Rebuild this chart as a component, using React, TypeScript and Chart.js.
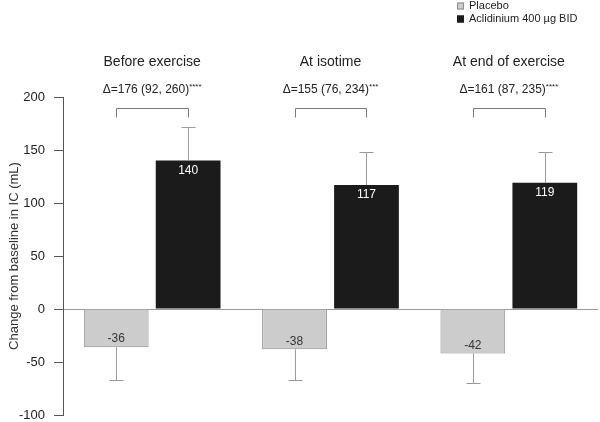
import React, { useEffect, useRef } from 'react';
import { Chart, registerables } from 'chart.js';

Chart.register(...registerables);

const categories = ['Before exercise', 'At isotime', 'At end of exercise'];
const placeboValues = [-36, -38, -42];
const aclidiniumValues = [140, 117, 119];
const placeboErrLow = [-67, -67, -70];
const aclidiniumErrHigh = [172, 148, 148];
const deltaTexts = ['\u0394=176 (92, 260)', '\u0394=155 (76, 234)', '\u0394=161 (87, 235)'];
const deltaStars = ['****', '***', '****'];
const seriesNames = ['Placebo', 'Aclidinium 400 \u00b5g BID'];
const bracketValue = 190;
const yMin = -100;
const yMax = 200;
const yStep = 50;

const FONT = "'Liberation Sans', Arial, Helvetica, sans-serif";
const PLACEBO_FILL = '#cccccc';
const PLACEBO_BORDER = '#8c8c8c';
const ACLI_FILL = '#1b1b1b';

const annotations = {
  id: 'annotations',
  afterDatasetsDraw(chart: any) {
    const ctx = chart.ctx;
    const y = chart.scales.y;
    const area = chart.chartArea;
    const m0 = chart.getDatasetMeta(0).data;
    const m1 = chart.getDatasetMeta(1).data;
    ctx.save();
    for (let i = 0; i < categories.length; i++) {
      const b0 = m0[i];
      const b1 = m1[i];
      // error bars
      ctx.strokeStyle = '#9a9a9a';
      ctx.lineWidth = 1;
      const x0 = Math.round(b0.x) + 0.5;
      const e0 = Math.round(y.getPixelForValue(placeboErrLow[i])) + 0.5;
      ctx.beginPath();
      ctx.moveTo(x0, b0.y);
      ctx.lineTo(x0, e0);
      ctx.moveTo(x0 - 7, e0);
      ctx.lineTo(x0 + 7, e0);
      ctx.stroke();
      const x1 = Math.round(b1.x) + 0.5;
      const e1 = Math.round(y.getPixelForValue(aclidiniumErrHigh[i])) + 0.5;
      ctx.beginPath();
      ctx.moveTo(x1, b1.y);
      ctx.lineTo(x1, e1);
      ctx.moveTo(x1 - 7, e1);
      ctx.lineTo(x1 + 7, e1);
      ctx.stroke();
      // value labels
      ctx.font = `12px ${FONT}`;
      ctx.textAlign = 'center';
      ctx.textBaseline = 'middle';
      ctx.fillStyle = '#333333';
      ctx.fillText(String(placeboValues[i]), b0.x, b0.y - 8);
      ctx.fillStyle = '#ffffff';
      ctx.fillText(String(aclidiniumValues[i]), b1.x, b1.y + 10);
      // bracket
      const bt = Math.round(y.getPixelForValue(bracketValue)) + 0.5;
      ctx.strokeStyle = '#7a7a7a';
      ctx.beginPath();
      ctx.moveTo(x0, bt + 9);
      ctx.lineTo(x0, bt);
      ctx.lineTo(x1, bt);
      ctx.lineTo(x1, bt + 9);
      ctx.stroke();
      // titles
      const cx = (b0.x + b1.x) / 2;
      ctx.fillStyle = '#222222';
      ctx.font = `14px ${FONT}`;
      ctx.fillText(categories[i], cx, area.top - 35);
      // delta text
      ctx.font = `12px ${FONT}`;
      const w1 = ctx.measureText(deltaTexts[i]).width;
      ctx.font = `8px ${FONT}`;
      const w2 = ctx.measureText(deltaStars[i]).width;
      const start = cx - (w1 + w2) / 2;
      ctx.textAlign = 'left';
      ctx.font = `12px ${FONT}`;
      ctx.fillText(deltaTexts[i], start, area.top - 7);
      ctx.font = `8px ${FONT}`;
      ctx.fillText(deltaStars[i], start + w1, area.top - 10);
      ctx.textAlign = 'center';
    }
    // legend
    ctx.textAlign = 'left';
    ctx.textBaseline = 'middle';
    ctx.font = `11px ${FONT}`;
    const lx = 457;
    const ly = [6, 19];
    const fills = [PLACEBO_FILL, ACLI_FILL];
    for (let k = 0; k < 2; k++) {
      ctx.fillStyle = fills[k];
      ctx.fillRect(lx, ly[k] - 3.5, 7, 7);
      ctx.strokeStyle = k === 0 ? PLACEBO_BORDER : ACLI_FILL;
      ctx.strokeRect(lx + 0.5, ly[k] - 3, 6, 6);
      ctx.fillStyle = '#222222';
      ctx.fillText(seriesNames[k], lx + 12, ly[k]);
    }
    ctx.restore();
  },
};

export default function App() {
  const ref = useRef<HTMLCanvasElement | null>(null);
  useEffect(() => {
    if (!ref.current) return;
    Chart.defaults.font.family = FONT;
    const chart = new Chart(ref.current, {
      type: 'bar',
      data: {
        labels: categories,
        datasets: [
          {
            label: seriesNames[0],
            data: placeboValues,
            backgroundColor: PLACEBO_FILL,
            borderColor: PLACEBO_BORDER,
            borderWidth: 1,
            categoryPercentage: 0.807,
            barPercentage: 0.9,
          },
          {
            label: seriesNames[1],
            data: aclidiniumValues,
            backgroundColor: ACLI_FILL,
            borderColor: ACLI_FILL,
            borderWidth: 0,
            categoryPercentage: 0.807,
            barPercentage: 0.9,
          },
        ],
      },
      options: {
        responsive: false,
        animation: false,
        devicePixelRatio: 1,
        layout: { padding: { top: 97, bottom: 7, left: 0, right: 2 } },
        plugins: {
          legend: { display: false },
          tooltip: { enabled: false },
          title: { display: false },
        },
        scales: {
          x: { display: false },
          y: {
            min: yMin,
            max: yMax,
            afterFit: (scale: any) => {
              scale.width = 63;
              scale.paddingTop = 0;
              scale.paddingBottom = 0;
            },
            ticks: {
              stepSize: yStep,
              color: '#222222',
              font: { size: 13 },
              padding: 9,
            },
            grid: {
              drawOnChartArea: true,
              color: (c: any) => (c.tick && c.tick.value === 0 ? '#9a9a9a' : 'rgba(0,0,0,0)'),
              tickColor: '#555555',
              tickLength: 9,
            },
            border: { display: true, color: '#555555', width: 1 },
            title: {
              display: true,
              text: 'Change from baseline in IC (mL)',
              color: '#333333',
              font: { size: 13 },
              padding: { top: 7, bottom: 0 },
            },
          },
        },
      },
      plugins: [annotations],
    });
    return () => chart.destroy();
  }, []);
  return (
    <div style={{ position: 'absolute', left: 0, top: 0, width: 600, height: 422, background: '#ffffff' }}>
      <canvas ref={ref} width={600} height={422} />
    </div>
  );
}
